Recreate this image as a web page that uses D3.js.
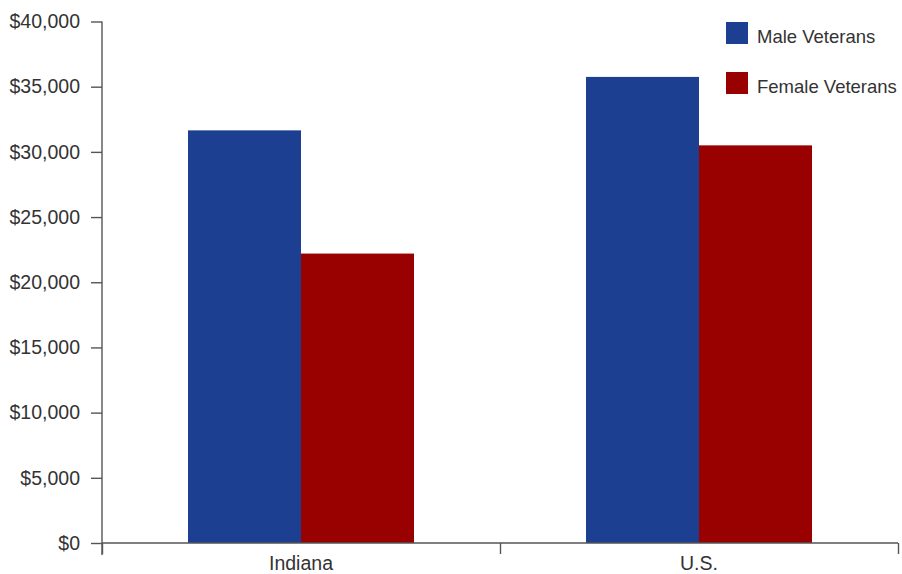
<!DOCTYPE html>
<html><head><meta charset="utf-8">
<script src="https://cdn.jsdelivr.net/npm/d3@7"></script>
<style>
body{margin:0;background:#fff;}
svg{display:block;font-family:"Liberation Sans",Arial,Helvetica,sans-serif;}
</style></head>
<body><svg id="c" width="902" height="574"></svg>
<script>
const categories = ["Indiana", "U.S."];
const series = ["Male Veterans", "Female Veterans"];
const maleValues = [31650, 35750];
const femaleValues = [22200, 30500];
const yTicks = [0, 5000, 10000, 15000, 20000, 25000, 30000, 35000, 40000];
const colors = ["#1c3f91", "#990000"];

const svg = d3.select("#c");
const mLeft = 102, mRight = 898, mTop = 21.5, mBottom = 543;

const y = d3.scaleLinear().domain([0, 40000]).range([mBottom, mTop]);
const x0 = d3.scaleBand().domain(categories).range([mLeft, mRight]).padding(0);
const x1 = d3.scaleBand().domain(series).range([86, x0.bandwidth() - 86]).padding(0);

const data = categories.map((c, i) => ({cat: c, vals: [maleValues[i], femaleValues[i]]}));

const g = svg.append("g");
data.forEach(d => {
  d.vals.forEach((v, j) => {
    g.append("rect")
      .attr("x", x0(d.cat) + x1(series[j]))
      .attr("y", y(v))
      .attr("width", x1.bandwidth())
      .attr("height", y(0) - y(v))
      .attr("fill", colors[j]);
  });
});

// Y axis
const yAxis = svg.append("g").attr("transform", `translate(${mLeft},0)`)
  .call(d3.axisLeft(y).tickValues(yTicks).tickSize(11).tickPadding(11)
    .tickFormat(d => "$" + d3.format(",")(d)));
yAxis.select(".domain").attr("d", `M0,${mTop}V${mBottom + 12}`);

// X axis boundaries
const xb = d3.scaleLinear().domain([0, categories.length]).range([mLeft, mRight]);
const xAxis = svg.append("g").attr("transform", `translate(0,${mBottom})`)
  .call(d3.axisBottom(xb).tickValues(d3.range(categories.length + 1)).tickSize(11).tickFormat(""));
xAxis.select(".domain").attr("d", `M${mLeft},0H${mRight}`);
const xLab = svg.append("g").attr("transform", `translate(0,${mBottom})`)
  .call(d3.axisBottom(x0).tickSize(0).tickPadding(13));
xLab.select(".domain").remove();

svg.selectAll(".tick line, .domain").attr("stroke", "#555").attr("stroke-width", 1.4);
svg.selectAll(".tick text").attr("fill", "#333").style("font-size", "19.5px")
  .style("font-family", "'Liberation Sans',Arial,sans-serif");

// Legend
const leg = svg.append("g").attr("transform", "translate(726,22)");
series.forEach((s, i) => {
  const r = leg.append("g").attr("transform", `translate(0,${i * 50})`);
  r.append("rect").attr("width", 22).attr("height", 22).attr("fill", colors[i]);
  r.append("text").attr("x", 31).attr("y", 21)
    .attr("fill", "#333").style("font-size", "18.5px").text(s);
});
</script></body></html>
